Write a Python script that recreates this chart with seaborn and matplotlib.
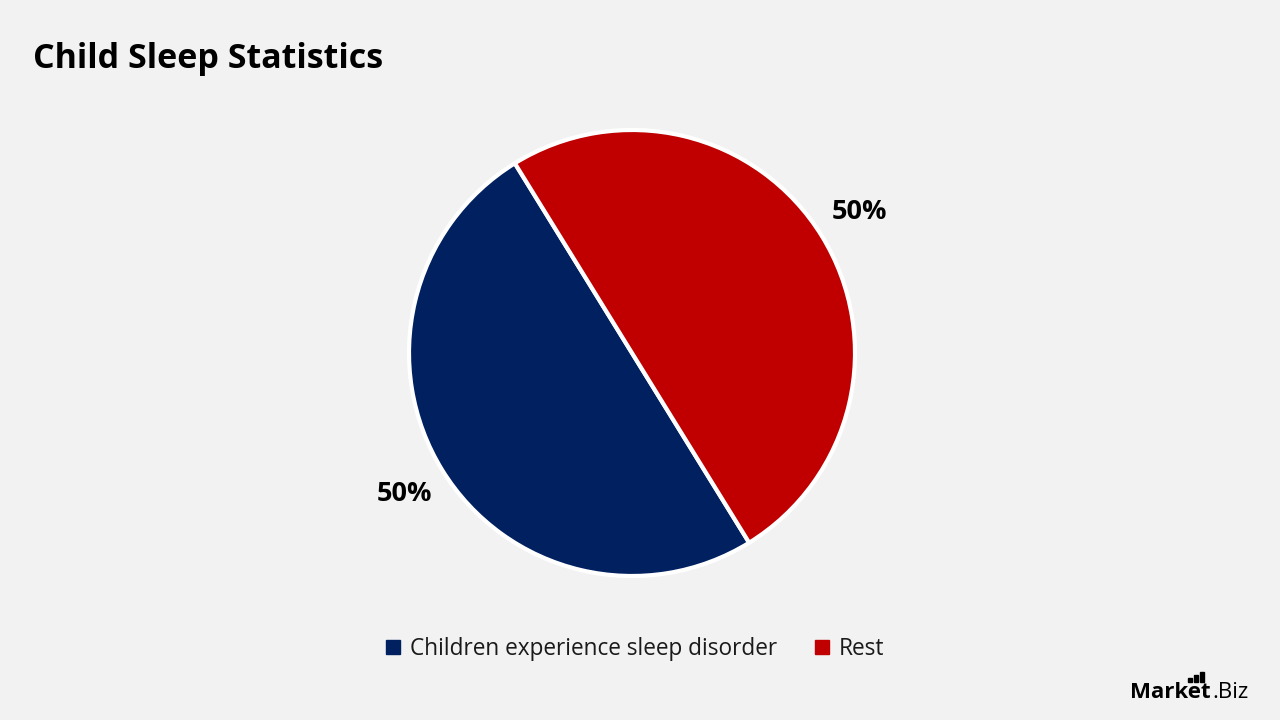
import matplotlib
matplotlib.use("Agg")
import matplotlib.pyplot as plt
from matplotlib.patches import Rectangle
from matplotlib.lines import Line2D
import seaborn as sns

# Datos del gráfico
categories = ["Children experience sleep disorder", "Rest"]
shares = [50, 50]
colors = ["#002060", "#C00000"]
title = "Child Sleep Statistics"

sns.set_theme(style="white")
plt.rcParams['font.family'] = ['Open Sans', 'DejaVu Sans']

bg = "#F2F2F2"
fig = plt.figure(figsize=(12.8, 7.2), dpi=100, facecolor=bg)

# Ejes del pie (centro ~ (632, 353) px, radio ~223 px)
W, H = 1280, 720
r = 223
cx, cy = 632, 353
ax = fig.add_axes([(cx - r) / W, (H - cy - r) / H, 2 * r / W, 2 * r / H])
ax.set_facecolor(bg)

wedges, texts, autotexts = ax.pie(
    shares,
    colors=colors,
    startangle=121.7,
    autopct=lambda p: f"{p:.0f}%",
    pctdistance=1.2,
    wedgeprops=dict(edgecolor="white", linewidth=3),
    textprops=dict(fontsize=19.5, fontweight="bold", color="black"),
)
ax.set_xlim(-1, 1)
ax.set_ylim(-1, 1)
ax.set_aspect("equal")
ax.axis("off")

# Título
fig.text(33 / W, 1 - 59 / H, title, fontsize=24.5, fontweight="bold",
         color="black", ha="left", va="center")

# Leyenda
handles = [Line2D([0], [0], marker="s", linestyle="none", markersize=10,
                  markerfacecolor=c, markeredgecolor=c) for c in colors]
fig.legend(handles, categories, loc="center", bbox_to_anchor=(634 / W, 1 - 649 / H),
           ncol=2, frameon=False, fontsize=16.3, handlelength=0.8,
           handletextpad=0.35, columnspacing=1.6, labelcolor="#1a1a1a")

# Logo
fig.text(1130 / W, 1 - 692 / H, "Market", fontsize=16, fontweight="bold",
         color="black", ha="left", va="center")
fig.text(1212 / W, 1 - 692 / H, ".Biz", fontsize=16, color="black",
         ha="left", va="center")
for i, h in enumerate([4, 7, 10]):
    x0 = 1188 + i * 6
    fig.patches.append(Rectangle((x0 / W, (H - 682) / H), 3.5 / W, h / H,
                                 transform=fig.transFigure, color="black"))

fig.savefig("out.png", dpi=100, facecolor=bg)
